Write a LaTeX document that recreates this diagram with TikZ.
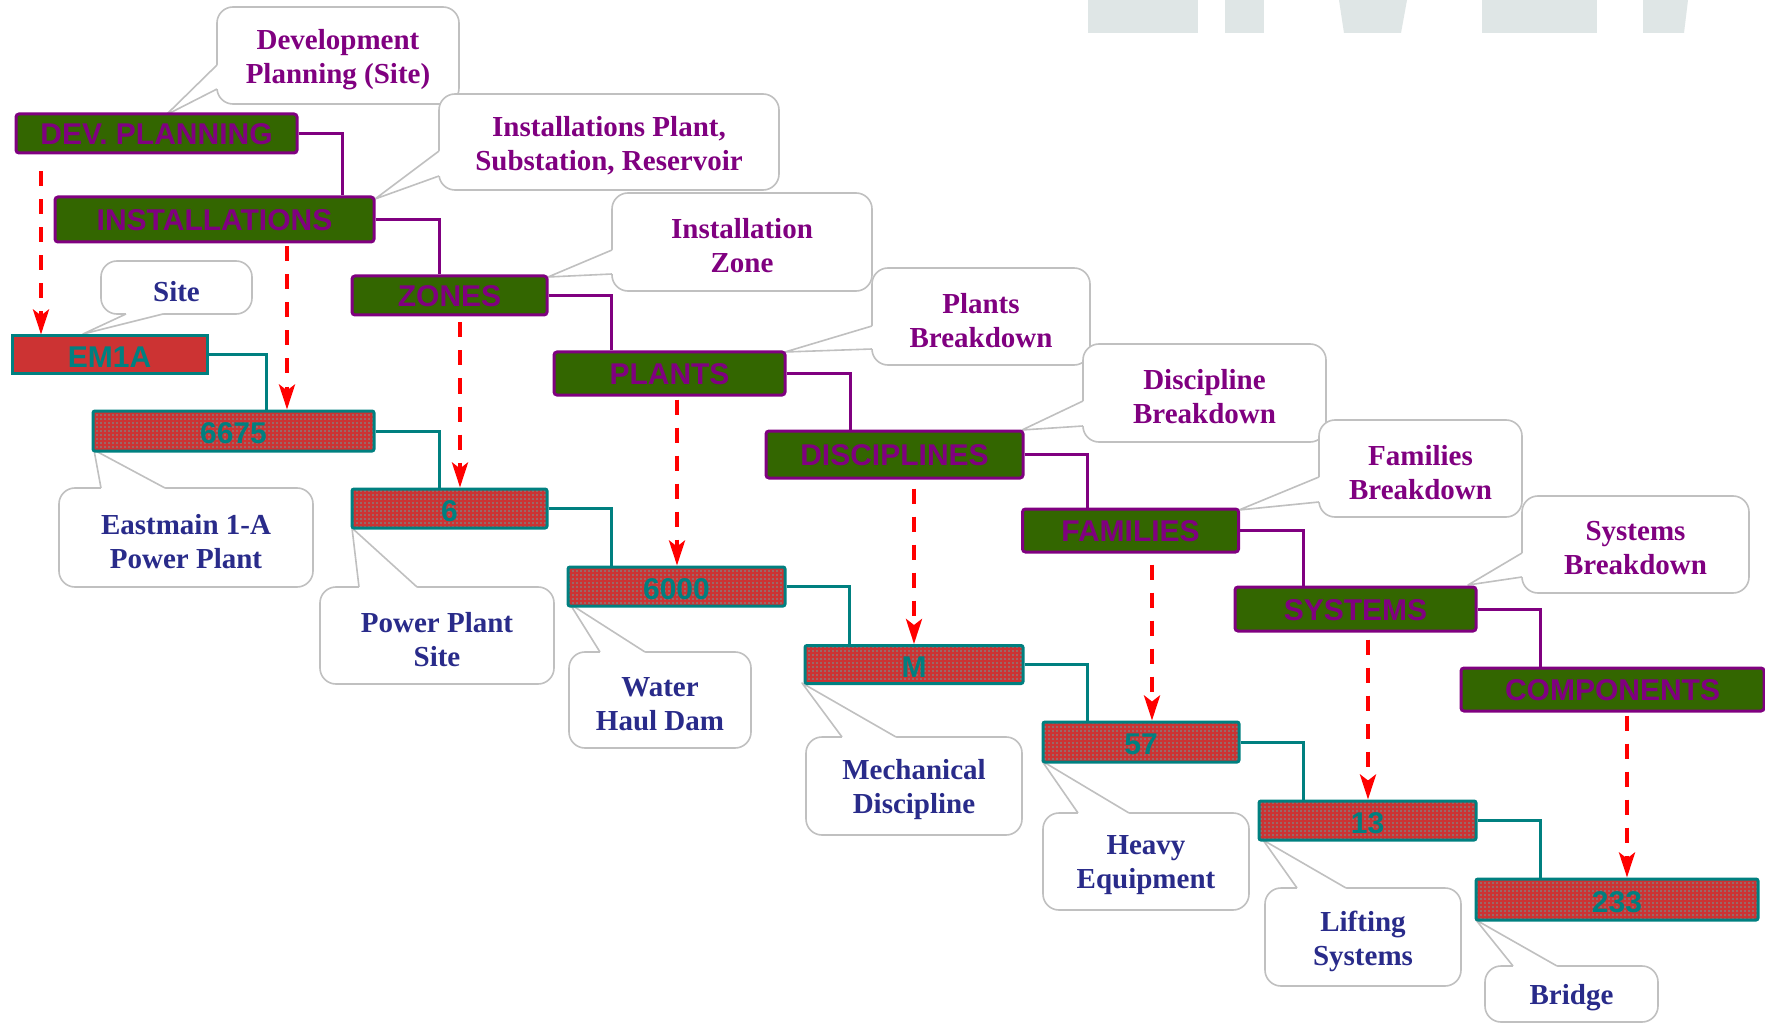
\documentclass[tikz,border=0pt]{standalone}
\usepackage{fontspec}
\setmainfont{Liberation Serif}
\newfontfamily\arialf{Liberation Sans}
\usetikzlibrary{arrows.meta,calc,patterns.meta}
\definecolor{pp}{HTML}{800080}
\definecolor{dg}{HTML}{336600}
\definecolor{tl}{HTML}{008080}
\definecolor{br}{HTML}{CC3333}
\definecolor{dotc}{HTML}{5AAFAF}
\definecolor{nv}{HTML}{292B8A}
\definecolor{cg}{HTML}{C0C0C0}
\definecolor{wm}{HTML}{DFE6E6}
\definecolor{ar}{HTML}{FF0000}
\tikzdeclarepattern{
  name=tealdots,
  type=uncolored,
  bottom left={(0pt,0pt)},
  top right={(4pt,4pt)},
  tile size={(4pt,4pt)},
  code={\fill (0.5pt,0.5pt) rectangle (1.9pt,1.9pt);}
}
\newcommand\bxf{\fontsize{30}{34}\selectfont\arialf\bfseries}
\newcommand\clf{\fontsize{29}{34}\selectfont\bfseries}
\newcommand\lw[1]{\raisebox{-4pt}[\height][\depth]{#1}}
\tikzset{
  gbox/.style={draw=pp, line width=3pt, fill=dg, rounded corners=3pt, inner sep=0pt, font=\bxf, text=pp,
               text height=22pt, text depth=0pt},
  ebox/.style={draw=tl, line width=3pt, fill=br, inner sep=0pt, font=\bxf, text=tl,
               text height=25pt, text depth=0pt},
  rbox/.style={draw=tl, line width=3pt, rounded corners=2pt, inner sep=0pt, font=\bxf, text=tl,
               text height=25pt, text depth=0pt,
               preaction={fill=br}, pattern={tealdots}, pattern color=dotc},
  cbox/.style={draw=cg, line width=1.6pt, fill=white, rounded corners=16pt, align=center, inner sep=0pt, font=\clf},
  ctop/.style={cbox, text=pp},
  cbot/.style={cbox, text=nv},
  callline/.style={draw=cg, line width=1.6pt, line join=round},
  ptree/.style={draw=pp, line width=3pt},
  ttree/.style={draw=tl, line width=3pt},
  darrow/.style={draw=ar, line width=4pt, dash pattern=on 15pt off 13pt,
                 -{Stealth[length=25pt, width=16pt, inset=6pt]}},
}
\newcommand\mkptr[4]{%
  \fill[white] (#1) -- (#3) -- (#2) -- ($(#2)+#4$) -- ($(#1)+#4$) -- cycle;
  \draw[callline] (#1) -- (#3) -- (#2);}
\begin{document}
\begin{tikzpicture}[x=1pt,y=-1pt]
\useasboundingbox (0,0) rectangle (1765,1024);
\fill[white] (0,0) rectangle (1765,1024);
% watermark fragments
\fill[wm] (1088,0) rectangle (1198,33);
\fill[wm] (1225,0) rectangle (1264,33);
\fill[wm] (1339,0) -- (1407,0) -- (1401,33) -- (1344,33) -- cycle;
\fill[wm] (1482,0) rectangle (1597,33);
\fill[wm] (1643,0) -- (1688,0) -- (1684,33) -- (1643,33) -- cycle;
% callouts (top chain)
\node[ctop, minimum width=242pt, minimum height=97pt] (c1) at (338,55.5) {\lw{Development}\\\lw{Planning (Site)}};
\mkptr{217,65}{217,89}{166,115}{(3,0)}
\node[ctop, minimum width=340pt, minimum height=96pt] (c2) at (609,142) {\lw{Installations Plant,}\\\lw{Substation, Reservoir}};
\mkptr{439,151}{439,176}{375,199}{(3,0)}
\node[ctop, minimum width=260pt, minimum height=98pt] (c3) at (742,242) {\lw{Installation}\\\lw{Zone}};
\mkptr{612,250}{612,274}{548,277}{(3,0)}
\node[ctop, minimum width=218pt, minimum height=97pt] (c4) at (981,316.5) {\lw{Plants}\\\lw{Breakdown}};
\mkptr{872,326}{872,349}{785,352}{(3,0)}
\node[ctop, minimum width=243pt, minimum height=98pt] (c5) at (1204.5,393) {\lw{Discipline}\\\lw{Breakdown}};
\mkptr{1083,401}{1083,426}{1022,430}{(3,0)}
\node[ctop, minimum width=203pt, minimum height=97pt] (c6) at (1420.5,468.5) {\lw{Families}\\\lw{Breakdown}};
\mkptr{1319,477}{1319,502}{1239,510}{(3,0)}
\node[ctop, minimum width=227pt, minimum height=97pt] (c7) at (1635.5,544.5) {\lw{Systems}\\\lw{Breakdown}};
\mkptr{1522,553}{1522,577}{1468,585}{(3,0)}
% callouts (bottom chain)
\node[cbot, minimum width=151pt, minimum height=53pt] (c8) at (176.5,287.5) {\lw{Site}};
\mkptr{126,314}{163,314}{83,334}{(0,-3)}
\node[cbot, minimum width=254pt, minimum height=99pt] (c9) at (186,537.5) {\lw{Eastmain 1-A}\\\lw{Power Plant}};
\mkptr{101,488}{165,488}{94,450}{(0,3)}
\node[cbot, minimum width=234pt, minimum height=97pt] (c10) at (437,635.5) {\lw{Power Plant}\\\lw{Site}};
\mkptr{359,587}{417,587}{352,528}{(0,3)}
\node[cbot, minimum width=182pt, minimum height=96pt] (c11) at (660,700) {\lw{Water}\\\lw{Haul Dam}};
\mkptr{600,652}{645,652}{570,604}{(0,3)}
\node[cbot, minimum width=216pt, minimum height=98pt] (c12) at (914,786) {\lw{Mechanical}\\\lw{Discipline}};
\mkptr{842,737}{896,737}{802,683}{(0,3)}
\node[cbot, minimum width=206pt, minimum height=97pt] (c13) at (1146,861.5) {\lw{Heavy}\\\lw{Equipment}};
\mkptr{1078,813}{1129,813}{1042,761}{(0,3)}
\node[cbot, minimum width=196pt, minimum height=98pt] (c14) at (1363,937) {\lw{Lifting}\\\lw{Systems}};
\mkptr{1297,888}{1346,888}{1263,840}{(0,3)}
\node[cbot, minimum width=173pt, minimum height=56pt] (c15) at (1571.5,994) {\lw{Bridge}};
\mkptr{1513,966}{1557,966}{1476,920}{(0,3)}
% green boxes
\node[gbox, minimum width=281pt, minimum height=39pt] (dev) at (156.5,133.5) {DEV. PLANNING};
\node[gbox, minimum width=319pt, minimum height=45pt] (inst) at (214.5,219.5) {INSTALLATIONS};
\node[gbox, minimum width=195pt, minimum height=39pt] (zon) at (449.5,295.5) {ZONES};
\node[gbox, minimum width=231pt, minimum height=43pt] (pla) at (669.5,373.5) {PLANTS};
\node[gbox, minimum width=257pt, minimum height=47pt] (dis) at (894.5,454.5) {DISCIPLINES};
\node[gbox, minimum width=216pt, minimum height=43pt] (fam) at (1130.5,530.5) {FAMILIES};
\node[gbox, minimum width=241pt, minimum height=44pt] (sys) at (1355.5,609) {SYSTEMS};
\node[gbox, minimum width=303pt, minimum height=43pt] (com) at (1612.5,689.5) {COMPONENTS};
% red boxes
\node[ebox, minimum width=195pt, minimum height=38pt] (em) at (109.5,355) {EM1A};
\node[rbox, minimum width=281pt, minimum height=40pt] (r1) at (233.5,431) {6675};
\node[rbox, minimum width=195pt, minimum height=39pt] (r2) at (449.5,508.5) {6};
\node[rbox, minimum width=217pt, minimum height=39pt] (r3) at (676.5,586.5) {6000};
\node[rbox, minimum width=218pt, minimum height=38pt] (r4) at (914,664.5) {M};
\node[rbox, minimum width=196pt, minimum height=40pt] (r5) at (1141,742) {57};
\node[rbox, minimum width=217pt, minimum height=39pt] (r6) at (1367.5,820.5) {13};
\node[rbox, minimum width=282pt, minimum height=41pt] (r7) at (1617,899.5) {233};
% purple tree
\draw[ptree] (dev.east) -| (inst.north -| 342,0);
\draw[ptree] (inst.east) -| (zon.north -| 439,0);
\draw[ptree] (zon.east) -| (pla.north -| 611,0);
\draw[ptree] (pla.east) -| (dis.north -| 850,0);
\draw[ptree] (dis.east) -| (fam.north -| 1087,0);
\draw[ptree] (fam.east) -| (sys.north -| 1303,0);
\draw[ptree] (sys.east) -| (com.north -| 1540,0);
% teal tree
\draw[ttree] (em.east) -| (r1.north -| 266,0);
\draw[ttree] (r1.east) -| (r2.north -| 439,0);
\draw[ttree] (r2.east) -| (r3.north -| 611,0);
\draw[ttree] (r3.east) -| (r4.north -| 849,0);
\draw[ttree] (r4.east) -| (r5.north -| 1087,0);
\draw[ttree] (r5.east) -| (r6.north -| 1303,0);
\draw[ttree] (r6.east) -| (r7.north -| 1540,0);
% dashed red arrows
\draw[darrow] ($(dev.south -| 41,0)+(0,17)$) -- (em.north -| 41,0);
\draw[darrow] ($(inst.south -| 287,0)+(0,3)$) -- (r1.north -| 287,0);
\draw[darrow] ($(zon.south -| 460,0)+(0,6)$) -- (r2.north -| 460,0);
\draw[darrow] ($(pla.south -| 677,0)+(0,3)$) -- (r3.north -| 677,0);
\draw[darrow] ($(dis.south -| 914,0)+(0,9)$) -- (r4.north -| 914,0);
\draw[darrow] ($(fam.south -| 1152,0)+(0,11)$) -- (r5.north -| 1152,0);
\draw[darrow] ($(sys.south -| 1368,0)+(0,7)$) -- (r6.north -| 1368,0);
\draw[darrow] ($(com.south -| 1627,0)+(0,3)$) -- (r7.north -| 1627,0);
\end{tikzpicture}
\end{document}
